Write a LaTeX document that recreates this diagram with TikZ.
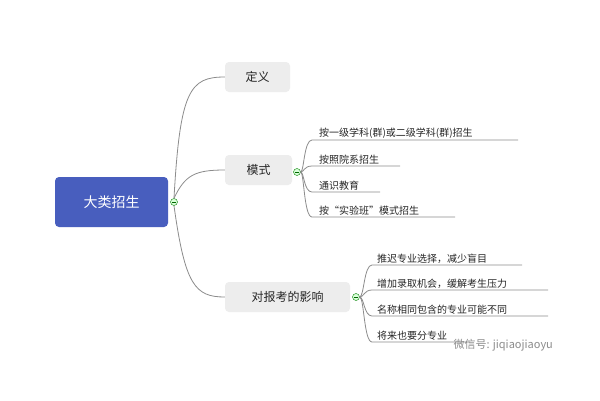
\documentclass[tikz,border=0pt]{standalone}
\usepackage{fontspec}
\newfontfamily\cjk{Noto Sans CJK SC}
\begin{document}
\begin{tikzpicture}[x=1pt,y=-1pt,font=\cjk,
  sub/.style={draw=none,fill=black!7,rounded corners=4pt,minimum height=30pt,inner sep=0pt,font=\cjk\fontsize{12}{14}\selectfont,text=black!85},
  leaf/.style={anchor=south west,inner sep=1pt,font=\cjk\fontsize{10}{12}\selectfont,text=black!85},
  conn/.style={draw=black!45,line width=0.8pt},
  tog/.style={circle,draw=green!50!black,fill=green!15,minimum size=7pt,inner sep=0pt}]
\useasboundingbox (0,0) rectangle (600,400);
\fill[white] (0,0) rectangle (600,400);
\node[fill={rgb,255:red,72;green,94;blue,190},rounded corners=4pt,minimum width=113pt,minimum height=50pt,text=white,font=\cjk\fontsize{14}{16}\selectfont] (root) at (111.5,202) {大类招生};
\node[sub,minimum width=65pt] (def) at (257.5,77) {定义};
\node[sub,minimum width=67pt] (mode) at (258.5,170) {模式};
\node[sub,minimum width=125pt] (imp) at (287.5,297) {对报考的影响};
\node[tog] (t0) at (174,202) {};
\node[tog] (t1) at (297,172) {};
\node[tog] (t2) at (356,297) {};
\foreach \t in {t0,t1,t2}{\draw[green!40!black,line width=0.6pt] ([xshift=-2pt]\t.center) -- ([xshift=2pt]\t.center);}
\coordinate (rs) at (root.east);
\draw[conn] (t0.north) .. controls (180,90) and (190,77) .. (def.west);
\draw[conn] (t0.north) .. controls (185,175) and (195,170) .. (mode.west);
\draw[conn] (t0.south) .. controls (185,285) and (195,297) .. (imp.west);
% mode leaves
\foreach \n/\y/\e/\txt in {m1/140/518/按一级学科(群)或二级学科(群)招生, m2/166/400/按照院系招生, m3/192/380/通识教育, m4/217/455/按“实验班”模式招生}{
  \coordinate (\n s) at (312,\y);
  \coordinate (\n e) at (\e,\y);
  \node[leaf] (\n) at (318,\y) {\txt};
  \draw[conn] (t1.east) .. controls (304,172) and (304,\y) .. (\n s) -- (\n e);
}
\foreach \n/\y/\e/\txt in {i1/265/522/推迟专业选择，减少盲目, i2/290/548/增加录取机会，缓解考生压力, i3/316/548/名称相同包含的专业可能不同, i4/342/470/将来也要分专业}{
  \coordinate (\n s) at (372,\y);
  \coordinate (\n e) at (\e,\y);
  \node[leaf] (\n) at (376,\y) {\txt};
  \draw[conn] (t2.east) .. controls (364,297) and (364,\y) .. (\n s) -- (\n e);
}
\node[text=black!45,font=\cjk\fontsize{11}{13}\selectfont,anchor=west] (wm) at (450,345) {微信号: jiqiaojiaoyu};
\end{tikzpicture}
\end{document}
